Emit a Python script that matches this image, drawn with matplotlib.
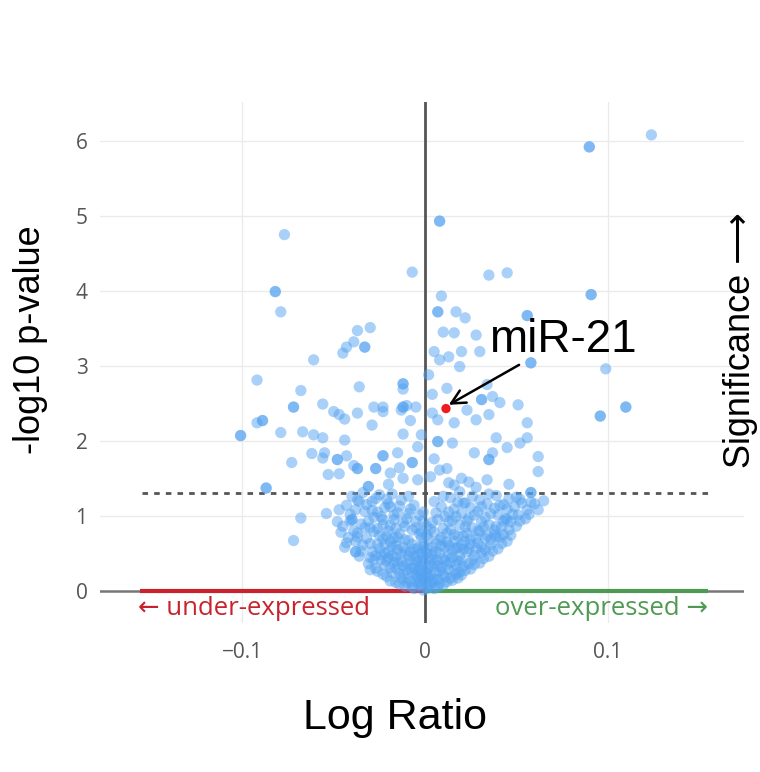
import matplotlib
matplotlib.use("Agg")
import matplotlib.pyplot as plt

# ---------------- data (log ratio, -log10 p) ----------------
sparse_upper = [
    (0.124, 6.08), (0.090, 5.92), (0.090, 5.92), (0.008, 4.93), (0.008, 4.93),
    (-0.077, 4.75), (-0.007, 4.25), (-0.082, 3.99), (-0.082, 3.99), (-0.079, 3.72),
    (0.035, 4.21), (0.045, 4.24), (0.091, 3.95), (0.091, 3.95), (0.009, 3.93),
    (0.007, 3.72), (0.007, 3.72), (0.017, 3.72), (0.022, 3.64), (0.056, 3.67),
    (0.056, 3.67), (0.010, 3.45), (0.016, 3.44), (0.028, 3.41), (0.005, 3.19),
    (0.013, 3.12), (0.020, 3.19), (0.030, 3.19), (0.008, 3.08), (0.058, 3.04),
    (0.058, 3.04), (0.099, 2.96), (0.019, 2.99),
]
right_mid = [
    (0.034, 2.75), (0.037, 2.59), (0.041, 2.51), (0.031, 2.55), (0.031, 2.55),
    (0.051, 2.48), (0.023, 2.41), (0.035, 2.35), (0.028, 2.28), (0.016, 2.24),
    (0.007, 2.28), (0.004, 2.37), (0.096, 2.33), (0.096, 2.33), (0.110, 2.45),
    (0.110, 2.45), (0.056, 2.24), (0.056, 2.04), (0.039, 2.04), (0.007, 1.99),
    (0.007, 1.99), (0.015, 1.97), (0.027, 1.84), (0.037, 1.84), (0.035, 1.75),
    (0.035, 1.75), (0.045, 1.91), (0.052, 1.97), (0.062, 1.79), (0.062, 1.59),
    (0.008, 1.61), (0.024, 1.45), (0.016, 1.41), (0.058, 1.31), (0.058, 1.31),
    (0.013, 1.44), (0.022, 1.17), (0.031, 1.12), (0.043, 1.15), (0.045, 0.95),
    (0.038, 0.75), (0.018, 0.17), (0.004, 2.62), (0.002, 2.88), (0.012, 2.70),
    (0.003, 1.52), (0.012, 1.63), (0.020, 1.50), (0.028, 1.38), (0.005, 1.76),
    (0.046, 1.42), (0.052, 1.22), (0.034, 1.48),
]
left_mid = [
    (-0.037, 3.47), (-0.030, 3.51), (-0.039, 3.32), (-0.043, 3.25), (-0.045, 3.17),
    (-0.033, 3.25), (-0.033, 3.25), (-0.061, 3.08), (-0.092, 2.81), (-0.068, 2.67),
    (-0.036, 2.72), (-0.012, 2.76), (-0.012, 2.76), (-0.012, 2.69), (-0.072, 2.45),
    (-0.072, 2.45), (-0.056, 2.49), (-0.050, 2.39), (-0.047, 2.35), (-0.044, 2.29),
    (-0.037, 2.37), (-0.028, 2.45), (-0.023, 2.45), (-0.023, 2.39), (-0.012, 2.45),
    (-0.012, 2.45), (-0.010, 2.47), (-0.005, 2.45), (-0.013, 2.41), (-0.008, 2.27),
    (-0.029, 2.21), (-0.092, 2.24), (-0.089, 2.27), (-0.089, 2.27), (-0.101, 2.07),
    (-0.101, 2.07), (-0.079, 2.11), (-0.067, 2.12), (-0.061, 2.08), (-0.056, 2.04),
    (-0.044, 2.01), (-0.012, 2.09), (-0.062, 1.83), (-0.055, 1.84), (-0.056, 1.77),
    (-0.048, 1.75), (-0.048, 1.75), (-0.043, 1.80), (-0.023, 1.80), (-0.023, 1.80),
    (-0.015, 1.84), (-0.073, 1.71), (-0.037, 1.63), (-0.037, 1.63), (-0.027, 1.63),
    (-0.027, 1.63), (-0.039, 1.67), (-0.007, 1.71), (-0.007, 1.71), (-0.014, 1.64),
    (-0.019, 1.57), (-0.004, 1.48), (-0.053, 1.55), (-0.047, 1.56), (-0.087, 1.37),
    (-0.087, 1.37), (-0.031, 1.39), (-0.031, 1.39), (-0.068, 0.97), (-0.054, 1.03),
    (-0.072, 0.67), (-0.040, 0.95), (-0.040, 0.95), (-0.038, 0.52), (-0.038, 0.52),
    (-0.037, 0.72), (-0.037, 1.21), (-0.029, 1.19), (-0.019, 1.12), (-0.023, 0.95),
    (-0.030, 0.84), (-0.004, 1.92), (-0.012, 1.50), (-0.020, 1.42), (-0.002, 2.08),
]
core_left = [
    (-0.044, 0.58), (-0.042, 0.71), (-0.045, 0.86), (-0.041, 1.02), (-0.043, 1.14),
    (-0.040, 1.26), (-0.036, 0.46), (-0.034, 0.61), (-0.037, 0.77), (-0.035, 0.89),
    (-0.033, 1.06), (-0.036, 1.19), (-0.034, 1.31), (-0.031, 0.36), (-0.029, 0.52),
    (-0.030, 0.63), (-0.028, 0.79), (-0.031, 0.93), (-0.029, 1.07), (-0.027, 1.23),
    (-0.026, 0.26), (-0.024, 0.41), (-0.025, 0.56), (-0.023, 0.69), (-0.026, 0.83),
    (-0.024, 0.99), (-0.022, 1.11), (-0.025, 1.28), (-0.021, 0.19), (-0.019, 0.31),
    (-0.020, 0.44), (-0.018, 0.59), (-0.021, 0.73), (-0.019, 0.87), (-0.017, 1.01),
    (-0.020, 1.16), (-0.018, 1.29), (-0.016, 0.11), (-0.014, 0.23), (-0.015, 0.36),
    (-0.013, 0.49), (-0.016, 0.61), (-0.014, 0.76), (-0.012, 0.91), (-0.015, 1.04),
    (-0.013, 1.21), (-0.011, 0.06), (-0.009, 0.16), (-0.010, 0.28), (-0.008, 0.41),
    (-0.011, 0.53), (-0.009, 0.67), (-0.007, 0.81), (-0.010, 0.96), (-0.008, 1.09),
    (-0.009, 1.26), (-0.006, 0.03), (-0.004, 0.11), (-0.005, 0.21), (-0.003, 0.33),
    (-0.006, 0.46), (-0.004, 0.57), (-0.002, 0.71), (-0.005, 0.84), (-0.003, 1.01),
    (-0.006, 1.14), (-0.001, 0.01), (-0.002, 0.07), (-0.001, 0.16), (-0.002, 0.27),
    (-0.001, 0.39), (-0.002, 0.51), (-0.001, 0.63), (-0.002, 0.79), (-0.001, 0.93),
    (-0.027, 0.47), (-0.017, 0.38), (-0.012, 0.33), (-0.007, 0.24), (-0.032, 0.70),
    (-0.022, 0.62), (-0.038, 1.08), (-0.016, 0.83), (-0.008, 0.52), (-0.004, 0.40),
    (-0.043, 0.64), (-0.039, 0.80), (-0.041, 0.93), (-0.038, 0.66), (-0.035, 0.53),
    (-0.033, 0.84), (-0.032, 1.15), (-0.030, 0.44), (-0.028, 0.98), (-0.027, 0.30),
    (-0.026, 1.05), (-0.024, 0.48), (-0.023, 0.88), (-0.022, 0.34), (-0.021, 1.22),
    (-0.020, 0.52), (-0.019, 0.66), (-0.018, 0.24), (-0.017, 0.95), (-0.016, 0.45),
    (-0.015, 0.71), (-0.014, 1.13), (-0.013, 0.17), (-0.012, 0.58), (-0.011, 0.86),
    (-0.010, 0.36), (-0.009, 1.03), (-0.008, 0.12), (-0.007, 0.62), (-0.006, 0.30),
    (-0.005, 0.92), (-0.004, 0.18), (-0.003, 0.50), (-0.003, 0.08), (-0.002, 0.22),
    (-0.001, 0.45), (-0.003, 0.76), (-0.001, 1.05), (-0.046, 0.78), (-0.048, 0.92),
    (-0.047, 1.08), (-0.030, 0.28), (-0.028, 0.41), (-0.026, 0.62), (-0.025, 0.74),
    (-0.023, 0.22), (-0.022, 0.50), (-0.021, 0.40), (-0.020, 0.80), (-0.019, 0.13),
    (-0.018, 0.47), (-0.017, 0.70), (-0.016, 0.30), (-0.015, 0.55), (-0.014, 0.09),
    (-0.013, 0.40), (-0.012, 0.22), (-0.011, 0.68), (-0.010, 0.11), (-0.009, 0.47),
    (-0.008, 0.30), (-0.007, 0.05), (-0.006, 0.55), (-0.005, 0.38), (-0.004, 0.26),
    (-0.003, 0.14), (-0.002, 0.36), (-0.001, 0.58), (0.000, 0.20),
]
core_right = [
    (0.005, 0.03), (0.004, 0.12), (0.006, 0.24), (0.005, 0.37), (0.004, 0.49),
    (0.006, 0.63), (0.005, 0.78), (0.004, 0.91), (0.006, 1.04), (0.005, 1.19),
    (0.010, 0.08), (0.011, 0.19), (0.009, 0.31), (0.010, 0.43), (0.011, 0.58),
    (0.009, 0.71), (0.010, 0.83), (0.011, 0.99), (0.009, 1.12), (0.010, 1.26),
    (0.015, 0.14), (0.016, 0.27), (0.014, 0.38), (0.015, 0.53), (0.016, 0.66),
    (0.014, 0.81), (0.015, 0.94), (0.016, 1.09), (0.014, 1.24), (0.020, 0.21),
    (0.021, 0.33), (0.019, 0.47), (0.020, 0.61), (0.021, 0.73), (0.019, 0.88),
    (0.020, 1.03), (0.021, 1.17), (0.019, 1.32), (0.025, 0.29), (0.026, 0.42),
    (0.024, 0.56), (0.025, 0.69), (0.026, 0.84), (0.024, 0.97), (0.025, 1.11),
    (0.026, 1.26), (0.030, 0.37), (0.031, 0.51), (0.029, 0.64), (0.030, 0.79),
    (0.031, 0.92), (0.029, 1.06), (0.030, 1.21), (0.035, 0.46), (0.036, 0.61),
    (0.034, 0.74), (0.035, 0.88), (0.036, 1.03), (0.034, 1.16), (0.035, 1.29),
    (0.040, 0.56), (0.041, 0.71), (0.039, 0.86), (0.040, 1.01), (0.041, 1.14),
    (0.039, 1.27), (0.045, 0.66), (0.046, 0.81), (0.044, 0.96), (0.045, 1.09),
    (0.046, 1.23), (0.050, 0.86), (0.051, 1.01), (0.049, 1.12), (0.050, 1.25),
    (0.055, 0.96), (0.056, 1.08), (0.060, 1.16), (0.002, 0.05), (0.002, 0.18),
    (0.001, 0.29), (0.002, 0.44), (0.001, 0.56), (0.002, 0.69), (0.001, 0.86),
    (0.008, 0.50), (0.013, 0.61), (0.018, 0.40), (0.023, 0.77), (0.028, 0.56),
    (0.033, 0.98), (0.013, 0.92), (0.007, 0.15), (0.018, 1.18), (0.043, 0.75),
    (0.003, 0.09), (0.003, 0.34), (0.004, 0.58), (0.003, 0.82), (0.007, 0.05),
    (0.008, 0.26), (0.007, 0.40), (0.008, 0.68), (0.007, 0.95), (0.012, 0.12),
    (0.012, 0.35), (0.013, 0.48), (0.012, 0.77), (0.013, 1.05), (0.017, 0.22),
    (0.017, 0.57), (0.018, 0.73), (0.017, 0.99), (0.022, 0.27), (0.023, 0.52),
    (0.022, 0.66), (0.023, 0.93), (0.027, 0.35), (0.028, 0.70), (0.027, 1.01),
    (0.032, 0.43), (0.033, 0.70), (0.032, 0.85), (0.037, 0.53), (0.038, 0.81),
    (0.038, 1.10), (0.042, 0.63), (0.043, 0.93), (0.047, 0.74), (0.048, 1.02),
    (0.052, 0.93), (0.053, 1.17), (0.057, 1.02), (0.058, 1.18), (0.062, 1.08),
    (0.065, 1.20), (0.001, 0.12), (0.001, 0.24), (0.001, 0.50), (0.001, 0.74),
    (0.001, 0.03), (0.002, 0.31), (0.003, 0.21), (0.004, 0.42), (0.005, 0.15),
    (0.006, 0.52), (0.007, 0.33), (0.008, 0.10), (0.009, 0.60), (0.010, 0.22),
    (0.011, 0.40), (0.012, 0.65), (0.013, 0.28), (0.014, 0.17), (0.015, 0.45),
    (0.016, 0.75), (0.017, 0.35), (0.018, 0.58), (0.019, 0.25), (0.020, 0.40),
    (0.021, 0.55), (0.022, 0.85), (0.024, 0.36), (0.025, 0.62), (0.027, 0.47),
    (0.029, 0.80), (0.031, 0.58), (0.033, 0.55), (0.036, 0.68), (0.039, 0.72),
    (0.042, 0.85), (0.047, 0.92),
]
highlight_x = [0.0115]
highlight_y = [2.43]
highlight_label = "miR-21"

x_ticks = [-0.1, 0, 0.1]
x_tick_labels = ["\u22120.1", "0", "0.1"]
y_ticks = [0, 1, 2, 3, 4, 5, 6]
threshold = 1.3

groups = [sparse_upper, right_mid, left_mid, core_left, core_right]
xs = [p[0] for g in groups for p in g]
ys = [p[1] for g in groups for p in g]

# ---------------- figure ----------------
fig = plt.figure(figsize=(7.6, 7.72), dpi=100)
ax = fig.add_axes([0.1316, 0.193, 0.848, 0.675])
ax.set_xlim(-0.178, 0.175)
ax.set_ylim(-0.43, 6.52)

for s in ax.spines.values():
    s.set_visible(False)

# grid
for xv in [-0.1, 0.1]:
    ax.axvline(xv, color="#ebebeb", lw=1, zorder=0)
for yv in y_ticks[1:]:
    ax.axhline(yv, color="#ebebeb", lw=1, zorder=0)

# zero lines
ax.axhline(0, color="#777777", lw=1.8, zorder=1)
ax.axvline(0, color="#555555", lw=2.0, zorder=1)
ax.plot([-0.156, 0], [0, 0], color="#c8232c", lw=3, zorder=2, solid_capstyle="butt")
ax.plot([0, 0.155], [0, 0], color="#4f9a52", lw=3, zorder=2, solid_capstyle="butt")

# threshold
ax.plot([-0.155, 0.155], [threshold, threshold], color="#555555", lw=2,
        linestyle=(0, (2, 2.2)), zorder=3)

# points
ax.scatter(xs, ys, s=66, color=(0.33, 0.64, 0.95), alpha=0.5,
           edgecolors="none", zorder=4)
ax.scatter(highlight_x, highlight_y, s=45, color="#ee1c1c", edgecolors="none", zorder=6)

ax.annotate(highlight_label, xy=(highlight_x[0] + 0.0015, highlight_y[0] + 0.05),
            xytext=(0.035, 3.05), fontsize=33, family=["Liberation Sans"],
            color="black", ha="left", va="bottom",
            arrowprops=dict(arrowstyle="->", color="black", lw=1.8,
                            mutation_scale=25, shrinkA=0, shrinkB=0),
            zorder=7)

# ticks
ax.set_xticks(x_ticks)
ax.set_xticklabels(x_tick_labels)
ax.set_yticks(y_ticks)
ax.tick_params(axis="both", length=0, labelcolor="#555555", labelsize=15)
ax.tick_params(axis="x", pad=14)
ax.tick_params(axis="y", pad=9)
for lab in ax.get_xticklabels() + ax.get_yticklabels():
    lab.set_family(["Open Sans", "DejaVu Sans"])

# direction labels
ax.text(-0.157, -0.23, "\u2190 under-expressed", color="#c8232c", fontsize=18.5,
        family=["Open Sans", "DejaVu Sans"], ha="left", va="center")
ax.text(0.155, -0.23, "over-expressed \u2192", color="#4f9a52", fontsize=18.5,
        family=["Open Sans", "DejaVu Sans"], ha="right", va="center")

# axis titles
fig.text(0.5 * (302 + 488) / 760, 1 - 718 / 772, "Log Ratio", fontsize=31,
         family=["Liberation Sans"], ha="center", va="center")
fig.text(31 / 760, 1 - 340 / 772, "-log10 p-value", fontsize=26,
         family=["Liberation Sans"], ha="center", va="center", rotation=90)
fig.text(741 / 760, 1 - 340 / 772, "Significance \u27f6", fontsize=26,
         family=["Liberation Sans", "DejaVu Sans"], ha="center", va="center",
         rotation=90)

fig.savefig("out.png", dpi=100, facecolor="white")
